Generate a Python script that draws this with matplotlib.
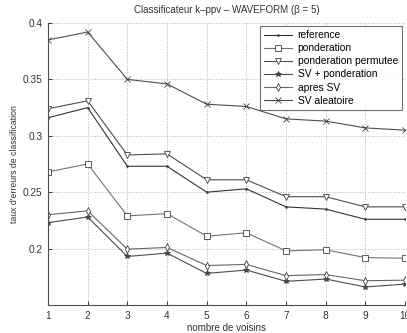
import numpy as np
import matplotlib
matplotlib.use("Agg")
import matplotlib.pyplot as plt

plt.rcParams['font.family'] = ['Liberation Sans', 'DejaVu Sans']

k = np.arange(1, 11)
reference = [0.316, 0.325, 0.273, 0.273, 0.250, 0.253, 0.237, 0.235, 0.226, 0.226]
ponderation = [0.268, 0.275, 0.229, 0.231, 0.211, 0.214, 0.198, 0.199, 0.192, 0.1915]
pond_permutee = [0.324, 0.331, 0.283, 0.284, 0.261, 0.261, 0.246, 0.246, 0.237, 0.237]
sv_ponderation = [0.223, 0.228, 0.193, 0.196, 0.178, 0.181, 0.171, 0.173, 0.166, 0.1685]
apres_sv = [0.230, 0.2335, 0.1995, 0.201, 0.185, 0.186, 0.176, 0.177, 0.1715, 0.172]
sv_aleatoire = [0.385, 0.392, 0.350, 0.346, 0.328, 0.326, 0.315, 0.313, 0.307, 0.305]

series = [
    (reference, 'reference', '.', '0.2'),
    (ponderation, 'ponderation', 's', '0.45'),
    (pond_permutee, 'ponderation permutee', 'v', '0.3'),
    (sv_ponderation, 'SV + ponderation', '*', '0.3'),
    (apres_sv, 'apres SV', 'd', '0.4'),
    (sv_aleatoire, 'SV aleatoire', 'x', '0.3'),
]

fig = plt.figure(figsize=(4.07, 3.33), dpi=100)
ax = fig.add_axes([48 / 407, 1 - 305 / 333, 357 / 407, 282 / 333])

for vals, lab, mk, col in series:
    ms = 2.5 if mk == '.' else 4
    ax.plot(k, vals, color=col, lw=0.8, marker=mk, ms=ms,
            mfc='white' if mk not in '.*x' else col,
            mec='0.25', mew=0.6, label=lab)

ax.set_xlim(1, 10)
ax.set_ylim(0.15, 0.4)
ax.set_xticks(k)
ax.set_yticks([0.2, 0.25, 0.3, 0.35, 0.4])
ax.set_yticklabels(['0.2', '0.25', '0.3', '0.35', '0.4'])
ax.tick_params(direction='in', labelsize=7.3, length=3, colors='0.2', width=0.7, pad=4)
ax.grid(True, linestyle=':', color='0.7', lw=0.7)
for s in ['top', 'right']:
    ax.spines[s].set_visible(False)
for s in ['left', 'bottom']:
    ax.spines[s].set_color('0.3')
    ax.spines[s].set_linewidth(0.8)

ax.set_title('Classificateur k\u2013ppv \u2013 WAVEFORM (\u03b2 = 5)', fontsize=7, color='0.2', pad=7)
ax.set_xlabel('nombre de voisins', fontsize=7, color='0.2', labelpad=2)
ax.set_ylabel("taux d'erreurs de classification", fontsize=6.3, color='0.2')
ax.yaxis.set_label_coords(-0.08, 0.5)

leg = ax.legend(loc='upper right', fontsize=7.4, frameon=True, fancybox=False,
                edgecolor='0.3', handlelength=2.8, borderaxespad=0.3,
                labelspacing=0.3, borderpad=0.4, handletextpad=0.5)
leg.get_frame().set_linewidth(0.8)

fig.savefig('out.png', dpi=100)
